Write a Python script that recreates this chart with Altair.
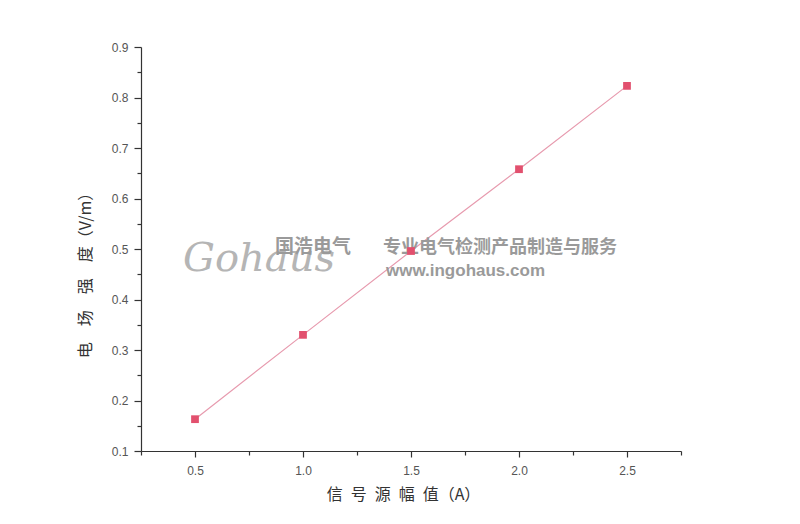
import altair as alt
import pandas as pd

amplitude = [0.5, 1.0, 1.5, 2.0, 2.5]
field = [0.163, 0.330, 0.496, 0.658, 0.823]

x_major = [0.5, 1.0, 1.5, 2.0, 2.5]
x_minor = [0.25, 0.75, 1.25, 1.75, 2.25, 2.75]
y_major = [0.1, 0.2, 0.3, 0.4, 0.5, 0.6, 0.7, 0.8, 0.9]
y_minor = [0.15, 0.25, 0.35, 0.45, 0.55, 0.65, 0.75, 0.85]

df = pd.DataFrame({"amp": amplitude, "field": field})

W, H = 540, 404
xs = alt.Scale(domain=[0.25, 2.75], nice=False, zero=False)
ys = alt.Scale(domain=[0.1, 0.9], nice=False, zero=False)

lab_font = "Liberation Sans"
cjk = "Noto Sans CJK SC"
sp = "\u2002"
sp2 = "\u2003"

x_axis = alt.Axis(values=x_major, format=".1f", orient="bottom", grid=False,
                  tickSize=6, tickColor="#333", domainColor="#333", tickWidth=1.2, domainWidth=1.2,
                  labelFont=lab_font, labelFontSize=12, labelColor="#555", labelPadding=8,
                  title=sp.join(["信", "号", "源", "幅", "值"]) + "（A）", titleFont=cjk, titleFontSize=16,
                  titleColor="#333", titleFontWeight="normal", titlePadding=10, titleX=262)
y_axis = alt.Axis(values=y_major, format=".1f", orient="left", grid=False,
                  tickSize=7, tickColor="#333", domainColor="#333", tickWidth=1.2, domainWidth=1.2,
                  labelFont=lab_font, labelFontSize=12, labelColor="#555", labelPadding=6,
                  title=sp2.join(["电", "场", "强", "度"]) + "（V/m）", titleFont=cjk, titleFontSize=16,
                  titleColor="#333", titleFontWeight="normal", titlePadding=18, titleY=224)

line = alt.Chart(df).mark_line(color="#e79aae", strokeWidth=1.2).encode(
    x=alt.X("amp:Q", scale=xs, axis=x_axis),
    y=alt.Y("field:Q", scale=ys, axis=y_axis),
)
pts = alt.Chart(df).mark_point(shape="square", filled=True, size=60, color="#e2506e", opacity=1).encode(
    x=alt.X("amp:Q", scale=xs, axis=None),
    y=alt.Y("field:Q", scale=ys, axis=None),
)
minor = alt.Chart(df).mark_point(opacity=0).encode(
    x=alt.X("amp:Q", scale=xs, axis=alt.Axis(values=x_minor, orient="bottom", labels=False, domain=False,
                                               grid=False, tickSize=4, tickColor="#333", tickWidth=1.2, title=None)),
    y=alt.Y("field:Q", scale=ys, axis=alt.Axis(values=y_minor, orient="left", labels=False, domain=False,
                                               grid=False, tickSize=4, tickColor="#333", tickWidth=1.2, title=None)),
)

wm_gray = "#9a9a9a"
wm1 = alt.Chart(df).mark_text(text="Gohaus", font="DejaVu Serif", fontStyle="italic", fontSize=40,
                              color="#b5b5b5", align="left", baseline="middle").encode(
    x=alt.value(42), y=alt.value(212)).transform_filter("datum.amp == 0.5")
wm2 = alt.Chart(df).mark_text(text="国浩电气", font=cjk, fontSize=19, fontWeight="bold",
                              color=wm_gray, align="left", baseline="middle").encode(
    x=alt.value(134), y=alt.value(200)).transform_filter("datum.amp == 0.5")
wm3 = alt.Chart(df).mark_text(text="专业电气检测产品制造与服务", font=cjk, fontSize=18, fontWeight="bold",
                              color=wm_gray, align="left", baseline="middle").encode(
    x=alt.value(242), y=alt.value(201)).transform_filter("datum.amp == 0.5")
wm4 = alt.Chart(df).mark_text(text="www.ingohaus.com", font="Liberation Sans", fontSize=17, fontWeight="bold",
                              color=wm_gray, align="left", baseline="middle").encode(
    x=alt.value(245), y=alt.value(224)).transform_filter("datum.amp == 0.5")

chart = alt.layer(minor, line, wm1, wm2, wm3, wm4, pts).resolve_axis(
    x="independent", y="independent"
).properties(
    width=W, height=H,
    autosize=alt.AutoSizeParams(type="none"),
    padding={"left": 133, "top": 39, "right": 111, "bottom": 65},
    background="white",
).configure_view(stroke=None)

chart.save("out.html", embed_options={"renderer": "svg", "actions": False})
